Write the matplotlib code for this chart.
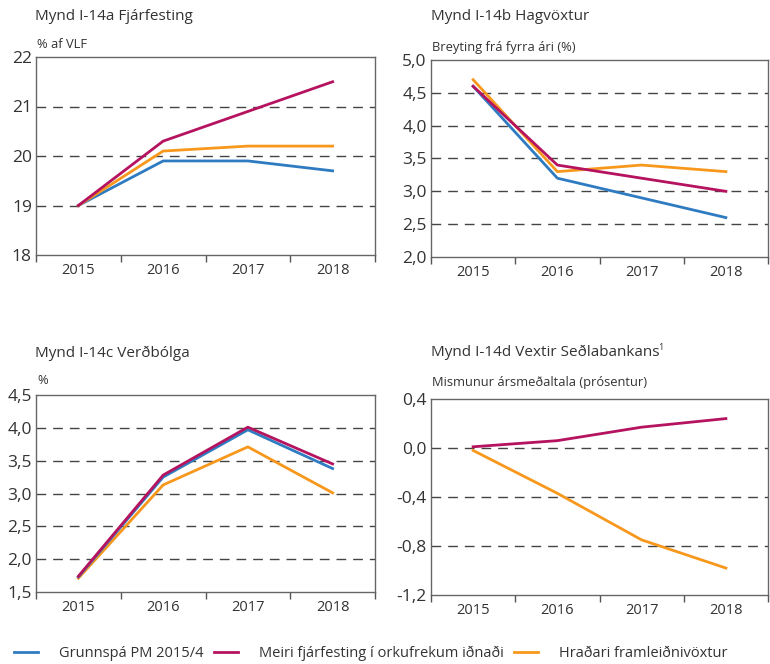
import numpy as np
import matplotlib
matplotlib.use("Agg")
from matplotlib import pyplot as plt
from matplotlib.ticker import FixedLocator, NullFormatter

plt.rcParams['font.family'] = ['Open Sans', 'DejaVu Sans']

years = ["2015", "2016", "2017", "2018"]

# a: Fjárfesting
inv_base = [19.0, 19.9, 19.9, 19.7]
inv_more = [19.0, 20.3, 20.9, 21.5]
inv_fast = [19.0, 20.1, 20.2, 20.2]

# b: Hagvöxtur
gdp_base = [4.6, 3.2, 2.9, 2.6]
gdp_more = [4.6, 3.4, 3.2, 3.0]
gdp_fast = [4.7, 3.3, 3.4, 3.3]

# c: Verðbólga
inf_base = [1.73, 3.25, 3.97, 3.38]
inf_more = [1.74, 3.28, 4.01, 3.45]
inf_fast = [1.71, 3.13, 3.71, 3.01]

# d: Vextir (difference from baseline)
rate_more = [0.01, 0.06, 0.17, 0.24]
rate_fast = [-0.02, -0.37, -0.75, -0.98]

labels = ["Grunnspá PM 2015/4", "Meiri fjárfesting í orkufrekum iðnaði",
          "Hraðari framleiðnivöxtur"]
BLUE = "#2f7bc1"
MAG = "#b5135f"
ORA = "#f7981d"
TXT = "#333333"

W, H = 770, 664
fig = plt.figure(figsize=(W / 100, H / 100), dpi=100)


def box(l, t, r, b):
    return [l / W, 1 - b / H, (r - l) / W, (b - t) / H]


def panel(rect, ylim, yticks, ylabels, title, unit, tpos, upos):
    ax = fig.add_axes(box(*rect))
    ax.set_xlim(-0.5, 3.5)
    ax.set_ylim(*ylim)
    ax.set_yticks(yticks)
    ax.set_yticklabels(ylabels)
    ax.set_xticks(range(4))
    ax.set_xticklabels(years)
    ax.xaxis.set_minor_locator(FixedLocator([-0.5, 0.5, 1.5, 2.5, 3.5]))
    ax.xaxis.set_minor_formatter(NullFormatter())
    ax.tick_params(axis='x', which='major', length=0, labelsize=10.5,
                   pad=6, colors=TXT)
    ax.tick_params(axis='x', which='minor', length=5, width=1,
                   direction='out', color="#555555")
    ax.tick_params(axis='y', length=0, labelsize=12.5, pad=3, colors=TXT)
    for s in ax.spines.values():
        s.set_color("#666666")
        s.set_linewidth(1)
    for v in yticks[1:-1]:
        ax.axhline(v, color="#444444", lw=1, dashes=(7, 5), zorder=1)
    fig.text(tpos[0] / W, 1 - tpos[1] / H, title, fontsize=11, color=TXT,
             va='center', ha='left')
    fig.text(upos[0] / W, 1 - upos[1] / H, unit, fontsize=9.3, color=TXT,
             va='center', ha='left')
    return ax


x = np.arange(4)
lw = 2.0

ax = panel((36, 57, 375, 255), (18, 22), [18, 19, 20, 21, 22],
           ["18", "19", "20", "21", "22"],
           "Mynd I-14a Fjárfesting", "% af VLF", (35, 16), (37, 44))
ax.plot(x, inv_base, color=BLUE, lw=lw, zorder=3)
ax.plot(x, inv_fast, color=ORA, lw=lw, zorder=3)
ax.plot(x, inv_more, color=MAG, lw=lw, zorder=3)

ax = panel((431, 60, 768, 257), (2.0, 5.0), [2.0, 2.5, 3.0, 3.5, 4.0, 4.5, 5.0],
           ["2,0", "2,5", "3,0", "3,5", "4,0", "4,5", "5,0"],
           "Mynd I-14b Hagvöxtur", "Breyting frá fyrra ári (%)",
           (431, 16), (432, 47))
ax.plot(x, gdp_base, color=BLUE, lw=lw, zorder=3)
ax.plot(x, gdp_fast, color=ORA, lw=lw, zorder=3)
ax.plot(x, gdp_more, color=MAG, lw=lw, zorder=3)

ax = panel((36, 395, 375, 592), (1.5, 4.5), [1.5, 2.0, 2.5, 3.0, 3.5, 4.0, 4.5],
           ["1,5", "2,0", "2,5", "3,0", "3,5", "4,0", "4,5"],
           "Mynd I-14c Verðbólga", "%", (35, 353), (37, 381))
ax.plot(x, inf_fast, color=ORA, lw=lw, zorder=3)
ax.plot(x, inf_base, color=BLUE, lw=lw, zorder=3)
ax.plot(x, inf_more, color=MAG, lw=lw, zorder=3)

ax = panel((431, 399, 768, 595), (-1.2, 0.4), [-1.2, -0.8, -0.4, 0.0, 0.4],
           ["-1,2", "-0,8", "-0,4", "0,0", "0,4"],
           "Mynd I-14d Vextir Seðlabankans", "Mismunur ársmeðaltala (prósentur)",
           (431, 352), (432, 383))
# small superscript footnote mark after the title
fig.text(658 / W, 1 - 348 / H, "1", fontsize=6.5, color=TXT,
         va='center', ha='left')
ax.plot(x, rate_fast, color=ORA, lw=lw, zorder=3)
ax.plot(x, rate_more, color=MAG, lw=lw, zorder=3)

handles = [plt.Line2D([], [], color=c, lw=lw) for c in (BLUE, MAG, ORA)]
fig.legend(handles, labels, loc='center', bbox_to_anchor=(371 / W, 1 - 653 / H),
           ncol=3, frameon=False, fontsize=10.5, handlelength=1.65,
           handletextpad=1.45, columnspacing=0.7, borderpad=0,
           labelcolor=TXT)

fig.savefig("out.png", dpi=100)
